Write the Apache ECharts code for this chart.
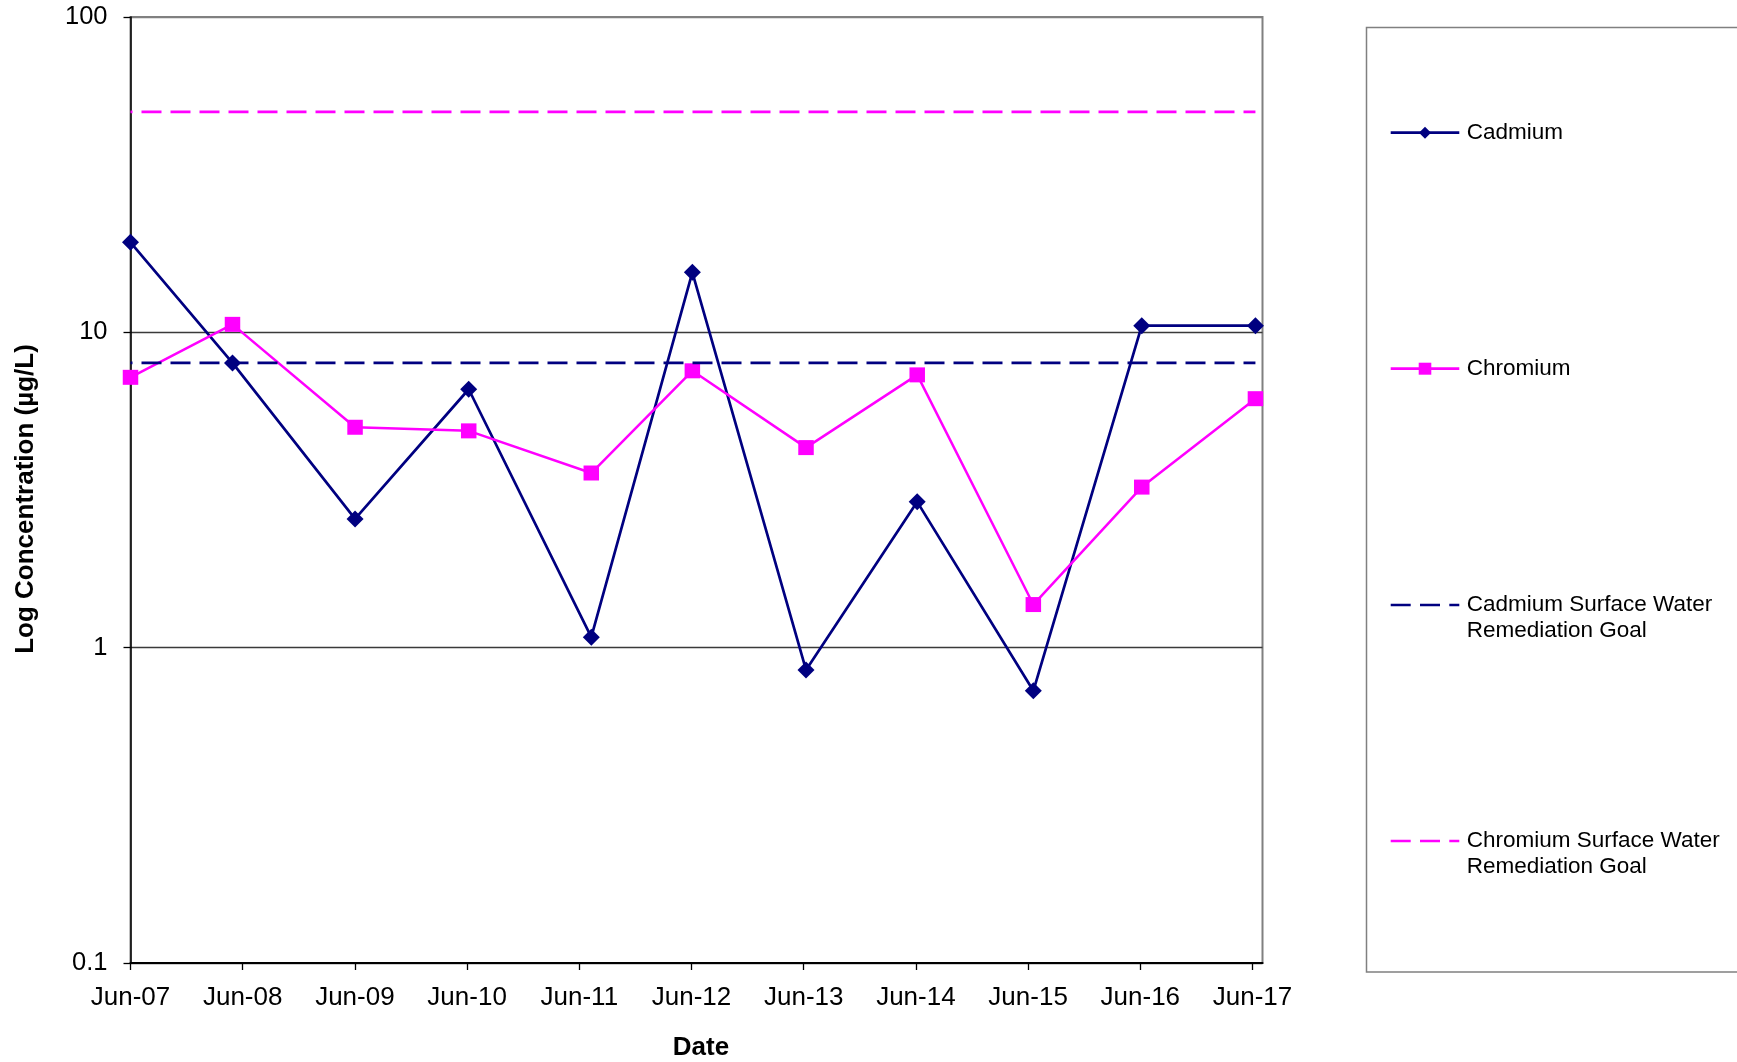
<!DOCTYPE html>
<html>
<head>
<meta charset="utf-8">
<title>Cadmium and Chromium Concentrations</title>
<script src="https://cdn.jsdelivr.net/npm/echarts@6/dist/echarts.min.js"></script>
<style>
  html, body { margin: 0; padding: 0; background: #ffffff; }
  #chart { width: 1737px; height: 1062px; }
</style>
</head>
<body>
<div id="chart"></div>
<script>
// Sampling dates and measured concentrations (µg/L)
const sampleDates = ['2007-06-01', '2008-04-28', '2009-06-01', '2010-06-06', '2011-07-10', '2012-06-03',
                     '2013-06-08', '2014-06-05', '2015-06-18', '2016-06-05', '2017-06-10'];
const cadmium  = [19.3, 8.0, 2.56, 6.6, 1.08, 15.5, 0.85, 2.9, 0.73, 10.5, 10.5];
const chromium = [7.2, 10.6, 5.0, 4.87, 3.58, 7.55, 4.31, 7.33, 1.37, 3.23, 6.16];

// Surface water remediation goals (µg/L)
const cadmiumGoal = 8;
const chromiumGoal = 50;

// Date axis: yearly ticks counted from the start date
const axisStart = '2007-06-01';
const axisEnd = '2017-07-03';
const dateTickLabels = ['Jun-07', 'Jun-08', 'Jun-09', 'Jun-10', 'Jun-11', 'Jun-12',
                        'Jun-13', 'Jun-14', 'Jun-15', 'Jun-16', 'Jun-17'];

// Concentration axis (log scale)
const concentrationTicks = ['0.1', '1', '10', '100'];

const seriesNames = ['Cadmium', 'Chromium',
                     'Cadmium Surface Water\nRemediation Goal',
                     'Chromium Surface Water\nRemediation Goal'];
const NAVY = '#000080';
const MAGENTA = '#FF00FF';
const FONT = '"Liberation Sans", Arial, sans-serif';

const YEAR_MS = 365.25 * 86400000;
const yearsFromStart = d => (Date.parse(d) - Date.parse(axisStart)) / YEAR_MS;
const xs = sampleDates.map(yearsFromStart);
const pairs = vals => xs.map((x, i) => [x, vals[i]]);
const constant = v => xs.map(x => [x, v]);

const chart = echarts.init(document.getElementById('chart'), null, { renderer: 'canvas' });

// Legend drawn as a framed panel to the right of the plot
const legendLeft = 1366.5, iconX0 = 1390.7, iconX1 = 1459.3, textX = 1466.7;
const legendRows = [
  { y: 132.7, color: NAVY,    dashed: false, marker: 'diamond' },
  { y: 368.7, color: MAGENTA, dashed: false, marker: 'square' },
  { y: 605,   color: NAVY,    dashed: true },
  { y: 841,   color: MAGENTA, dashed: true }
];
const legendGraphics = [{
  type: 'rect',
  shape: { x: legendLeft, y: 27.5, width: 420, height: 944.5 },
  style: { fill: '#ffffff', stroke: '#808080', lineWidth: 1.5 },
  z: 1
}];
legendRows.forEach((row, i) => {
  legendGraphics.push({
    type: 'line',
    shape: { x1: iconX0, y1: row.y, x2: iconX1, y2: row.y },
    style: { stroke: row.color, lineWidth: 2.7, lineDash: row.dashed ? [20, 9.3] : null },
    z: 2
  });
  const cx = (iconX0 + iconX1) / 2;
  if (row.marker === 'diamond') {
    legendGraphics.push({
      type: 'polygon',
      shape: { points: [[cx, row.y - 6], [cx + 6, row.y], [cx, row.y + 6], [cx - 6, row.y]] },
      style: { fill: row.color }, z: 3
    });
  } else if (row.marker === 'square') {
    legendGraphics.push({
      type: 'rect',
      shape: { x: cx - 6.3, y: row.y - 6, width: 12.6, height: 12 },
      style: { fill: row.color }, z: 3
    });
  }
  legendGraphics.push({
    type: 'text',
    x: textX, y: row.y - 13,
    style: {
      text: seriesNames[i], fill: '#000000',
      font: '22.5px ' + FONT, lineHeight: 26,
      align: 'left', verticalAlign: 'top'
    },
    z: 3
  });
});

const option = {
  animation: false,
  backgroundColor: '#ffffff',
  grid: {
    left: 130.5, right: 474.5, top: 17, bottom: 99,
    containLabel: false,
    outerBoundsMode: 'none',
    show: true, borderColor: '#808080', borderWidth: 2, backgroundColor: 'transparent'
  },
  xAxis: {
    type: 'value',
    min: 0,
    max: yearsFromStart(axisEnd),
    interval: 1,
    name: 'Date',
    nameLocation: 'middle',
    nameGap: 72,
    nameTextStyle: { fontFamily: FONT, fontSize: 26, fontWeight: 'bold', color: '#000', padding: [0, 0, 0, 9] },
    axisLine: { show: true, onZero: false, lineStyle: { color: '#000', width: 2 } },
    axisTick: { show: true, inside: false, length: 7, lineStyle: { color: '#000', width: 1.3 },
                customValues: dateTickLabels.map((_, i) => i) },
    axisLabel: {
      customValues: dateTickLabels.map((_, i) => i),
      formatter: v => dateTickLabels[Math.round(v)] || '',
      fontFamily: FONT, fontSize: 26, color: '#000', margin: 22
    },
    splitLine: { show: false }
  },
  yAxis: {
    type: 'log',
    logBase: 10,
    min: 0.1,
    max: 100,
    name: 'Log Concentration (µg/L)',
    nameLocation: 'middle',
    nameGap: 92,
    nameRotate: 90,
    nameTextStyle: { fontFamily: FONT, fontSize: 26, fontWeight: 'bold', color: '#000', padding: [0, 18, 0, 0] },
    axisLine: { show: true, lineStyle: { color: '#000', width: 1.5 } },
    axisTick: { show: true, inside: false, length: 7, lineStyle: { color: '#000', width: 1.3 } },
    axisLabel: {
      formatter: v => {
        const k = Math.round(Math.log10(v)) + 1;
        return concentrationTicks[k] !== undefined ? concentrationTicks[k] : '';
      },
      fontFamily: FONT, fontSize: 25.5, color: '#000', margin: 23
    },
    splitLine: { show: true, lineStyle: { color: ['#3a3a3a', '#3a3a3a', '#3a3a3a', '#808080'], width: 1.3 } }
  },
  series: [
    {
      name: seriesNames[0], type: 'line', data: pairs(cadmium),
      symbol: 'diamond', symbolSize: 17,
      itemStyle: { color: NAVY },
      lineStyle: { color: NAVY, width: 2.7 },
      z: 3
    },
    {
      name: seriesNames[1], type: 'line', data: pairs(chromium),
      symbol: 'rect', symbolSize: [15.5, 15],
      itemStyle: { color: MAGENTA },
      lineStyle: { color: MAGENTA, width: 2.5 },
      z: 4
    },
    {
      name: seriesNames[2], type: 'line', data: constant(cadmiumGoal),
      symbol: 'none',
      lineStyle: { color: NAVY, width: 2.7, type: [20, 9], dashOffset: 18 },
      z: 5
    },
    {
      name: seriesNames[3], type: 'line', data: constant(chromiumGoal),
      symbol: 'none',
      lineStyle: { color: MAGENTA, width: 2.7, type: [20, 9], dashOffset: 18 },
      z: 5
    }
  ],
  graphic: legendGraphics
};

chart.setOption(option);
</script>
</body>
</html>
